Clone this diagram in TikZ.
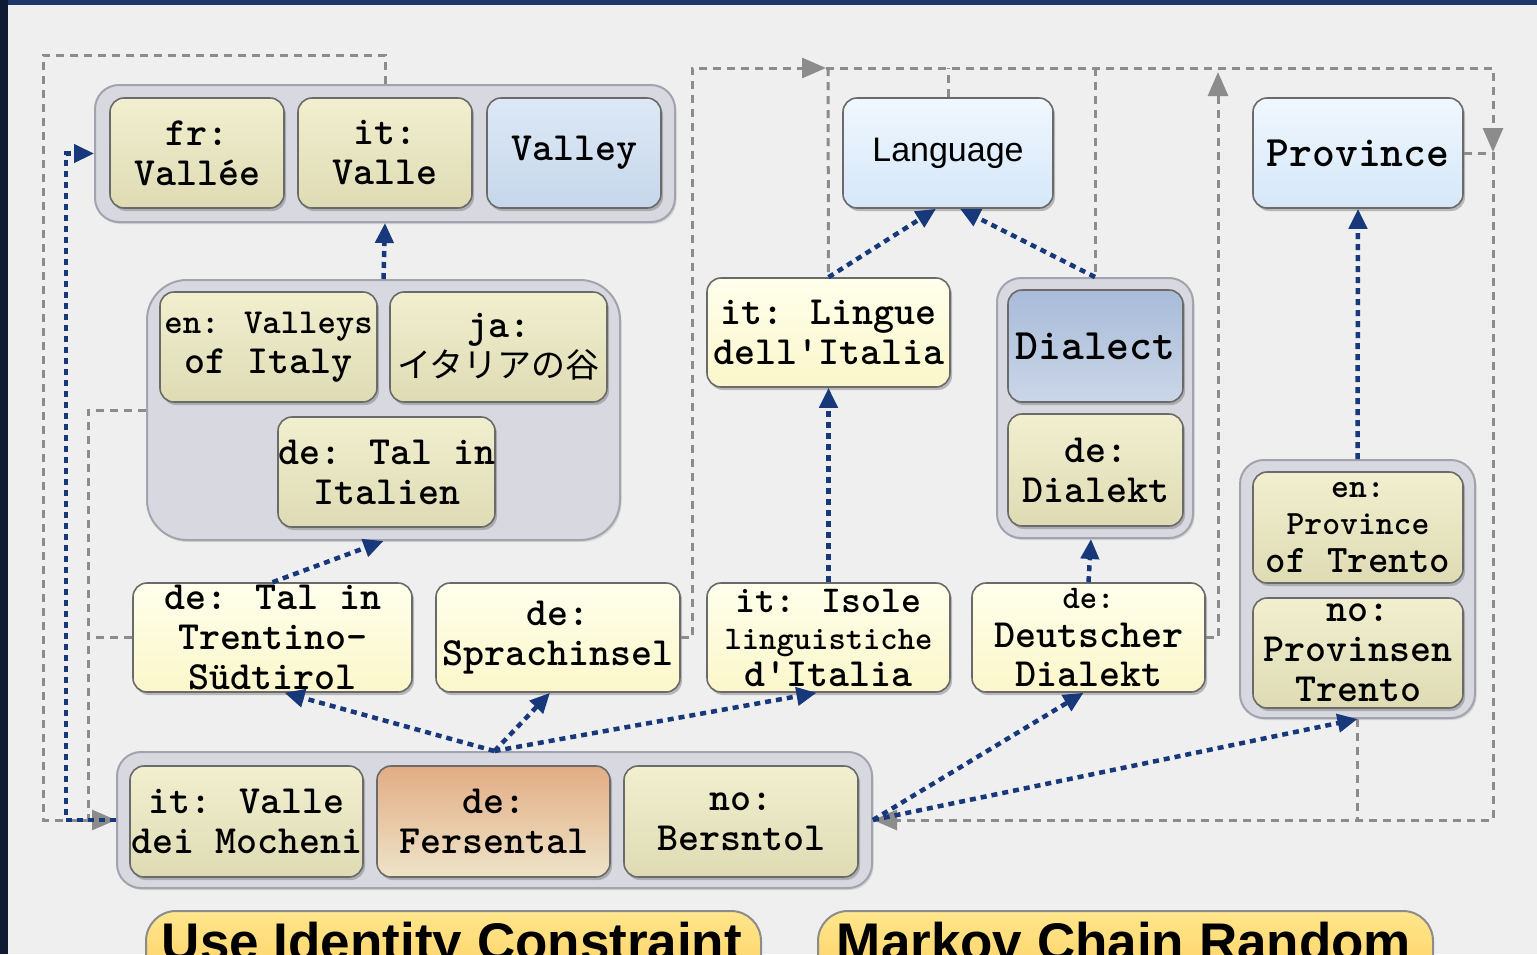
\documentclass[tikz,border=0pt]{standalone}
\usepackage{fontspec}
\newfontfamily\jpfont{Noto Sans CJK JP}
\newfontfamily\arialfont{Liberation Sans}
\usetikzlibrary{arrows.meta,shadows,calc}
\definecolor{bgcol}{HTML}{EFEFEF}
\definecolor{topnavy}{HTML}{1D3868}
\definecolor{leftnavy}{HTML}{0F1B33}
\definecolor{grpfill}{HTML}{D8D9E0}
\definecolor{grpline}{HTML}{A2A3AD}
\definecolor{boxline}{HTML}{6A6A6A}
\definecolor{olT}{HTML}{F1EFCF}
\definecolor{olB}{HTML}{DEDBB4}
\definecolor{paT}{HTML}{FFFFEC}
\definecolor{paB}{HTML}{FBF6CA}
\definecolor{vbT}{HTML}{DDE8F5}
\definecolor{vbB}{HTML}{C6D7EB}
\definecolor{lbT}{HTML}{F0F7FE}
\definecolor{lbB}{HTML}{D5E7F8}
\definecolor{dbT}{HTML}{A8BBD8}
\definecolor{dbB}{HTML}{CBD6E8}
\definecolor{orT}{HTML}{E2AC84}
\definecolor{orB}{HTML}{EEE4C8}
\definecolor{navy}{HTML}{17387A}
\definecolor{grayln}{HTML}{8C8C8C}
\definecolor{btT}{HTML}{FFE68C}
\definecolor{btB}{HTML}{FFC64E}
\newcommand\fsz[1]{\fontsize{#1}{40}\selectfont}
\newcommand\apos{\textquotesingle}
\tikzset{
  grp/.style={draw=grpline, line width=2pt, fill=grpfill, rounded corners=24pt, inner sep=0pt,
    drop shadow={shadow xshift=1.5pt, shadow yshift=-2pt, opacity=0.25}},
  box/.style={draw=boxline, line width=1.6pt, rounded corners=14pt, inner sep=0pt, align=center,
    font=\ttfamily\bfseries\fsz{40}, drop shadow={shadow xshift=2pt, shadow yshift=-3pt, opacity=0.5}},
  olive/.style={top color=olT, bottom color=olB},
  pale/.style={top color=paT, bottom color=paB},
  vblue/.style={top color=vbT, bottom color=vbB},
  lblue/.style={top color=lbT, bottom color=lbB},
  dblue/.style={top color=dbT, bottom color=dbB},
  orng/.style={top color=orT, bottom color=orB},
  bl/.style={draw=navy, line width=4.5pt, dash pattern=on 6pt off 5pt, -{Triangle[length=20pt,width=18pt]}},
  gl/.style={draw=grayln, line width=3pt, dash pattern=on 8pt off 6pt},
  ga/.style={gl, -{Triangle[length=24pt,width=20pt]}},
  btn/.style={draw=grayln, line width=2pt, rounded corners=30pt, top color=btT, bottom color=btB},
  btntext/.style={font=\arialfont\bfseries\fontsize{53}{60}\selectfont, inner sep=0pt}
}
\begin{document}
\begin{tikzpicture}[x=1pt,y=-1pt]
\clip (0,0) rectangle (1537,954);
\fill[bgcol] (0,0) rectangle (1537,954);
\fill[topnavy] (0,0) rectangle (1537,5);
\fill[leftnavy] (0,0) rectangle (8,954);

% groups
\node[grp, minimum width=580pt, minimum height=137pt] (vgrp) at (385,153.5) {};
\node[grp, rounded corners=40pt, minimum width=473pt, minimum height=260pt] (mgrp) at (383.5,410) {};
\node[grp, minimum width=196pt, minimum height=260pt] (dgrp) at (1095,408) {};
\node[grp, minimum width=235pt, minimum height=258pt] (pgrp) at (1357.5,589) {};
\node[grp, minimum width=755pt, minimum height=136pt] (bgrp) at (494.5,820) {};

% top group
\node[box, olive, minimum width=174pt, minimum height=110pt] (fr) at (197,153) {fr:\\Vallée};
\node[box, olive, minimum width=174pt, minimum height=110pt] (itv) at (385,153) {it:\\Valle};
\node[box, vblue, minimum width=174pt, minimum height=110pt] (valley) at (574,153) {Valley};

% middle group
\node[box, olive, minimum width=217pt, minimum height=110pt] (env) at (268.5,347) {{\fsz{35}en: Valleys}\\of Italy};
\node[box, olive, minimum width=217pt, minimum height=110pt] (ja) at (498.5,347) {ja:\\{\jpfont\mdseries\fsz{34}イタリアの谷}};
\node[box, olive, minimum width=217pt, minimum height=110pt] (talit) at (386.5,472) {de: Tal in\\Italien};

% row of standalone nodes
\node[box, pale, minimum width=279pt, minimum height=109pt] (tal) at (272.5,637.5) {de: Tal in\\Trentino-\\Südtirol};
\node[box, pale, minimum width=244pt, minimum height=109pt] (sprach) at (558,637.5) {de:\\Sprachinsel};
\node[box, pale, minimum width=243pt, minimum height=109pt, font=\ttfamily\bfseries\fontsize{38}{37}\selectfont] (isole) at (828.5,637.5) {it: Isole\\{\fontsize{33}{37}\selectfont linguistiche}\\{\fontsize{40}{37}\selectfont d\apos Italia}};
\node[box, pale, minimum width=233pt, minimum height=109pt, font=\ttfamily\bfseries\fontsize{40}{39}\selectfont] (deut) at (1088.5,637.5) {{\fontsize{33}{39}\selectfont de:}\\Deutscher\\Dialekt};
\node[box, pale, minimum width=243pt, minimum height=109pt] (lingue) at (828.5,332.5) {it: Lingue\\dell\apos Italia};

% dialect group
\node[box, dblue, minimum width=175pt, minimum height=112pt, font=\ttfamily\bfseries\fsz{43.5}] (dialect) at (1095.5,346) {Dialect};
\node[box, olive, minimum width=175pt, minimum height=112pt] (dialekt) at (1095.5,470) {de:\\Dialekt};

% top blue
\node[box, lblue, minimum width=210pt, minimum height=110pt, font=\arialfont\fsz{34}] (language) at (948,153) {Language};
\node[box, lblue, minimum width=210pt, minimum height=110pt, font=\ttfamily\bfseries\fsz{43.5}] (province) at (1358,153) {Province};

% province group
\node[box, olive, minimum width=210pt, minimum height=111pt, font=\ttfamily\bfseries\fontsize{34}{37.5}\selectfont] (enprov) at (1358,527.5) {en:\\Province\\{\fontsize{39}{37.5}\selectfont of Trento}};
\node[box, olive, minimum width=210pt, minimum height=110pt] (noprov) at (1358,653) {no:\\Provinsen\\Trento};

% bottom group
\node[box, olive, minimum width=233pt, minimum height=111pt] (mocheni) at (246.5,821.5) {it: Valle\\dei Mocheni};
\node[box, orng, minimum width=233pt, minimum height=111pt] (fersental) at (493.5,821.5) {de:\\Fersental};
\node[box, olive, minimum width=234pt, minimum height=111pt] (bersntol) at (741,821.5) {no:\\Bersntol};

% gray dashed connectors
\draw[ga] (vgrp.north) -- (385,55) -- (43,55) -- (43,820) -- (bgrp.west);
\draw[gl] (mgrp.west) -- (88,410) -- (88,820);
\draw[gl] (tal.west) -- (88,637.5);
\draw[ga] (sprach.east) -| (692,68) -- (826,68);
\draw[ga] (826,68) -- (1493,68) -- (1493,152);
\draw[ga] (province.east) -- (1493,153) -- (1493,820) -- (bgrp.east);
\draw[gl] (828,68) -- (lingue.north);
\draw[gl] (language.north) -- (948,68);
\draw[gl] (1095,68) -- (dgrp.north);
\draw[ga] (deut.east) -| (1218,72);
\draw[gl] (pgrp.south) -- (1357.5,820);

% blue dotted connectors
\draw[bl] (mgrp.north) -- (vgrp.south);
\draw[bl] (tal.north) -- (mgrp.south);
\draw[bl] (bgrp.north) -- ($(tal.south)+(12,0)$);
\draw[bl] (bgrp.north) -- ($(sprach.south)+(-8,0)$);
\draw[bl] (bgrp.north) -- ($(isole.south)+(-12,0)$);
\draw[bl] (isole.north) -- (lingue.south);
\draw[bl] (lingue.north) -- ($(language.south)+(-12,0)$);
\draw[bl] (dgrp.north) -- ($(language.south)+(12,0)$);
\draw[bl] (deut.north) -- ($(dgrp.south)+(-4,0)$);
\draw[bl] (bgrp.east) -- ($(deut.south)+(-5,0)$);
\draw[bl] (bgrp.east) -- (pgrp.south);
\draw[bl] (pgrp.north) -- (province.south);
\draw[bl] (bgrp.west) -- (66,820) -- (66,153.5) -- (vgrp.west);

% buttons
\node[btn, anchor=north west, minimum width=615pt, minimum height=110pt] (b1) at (145,910) {};
\node[btntext, anchor=base] (b1t) at (452,960) {Use Identity Constraint};
\node[btn, anchor=north west, minimum width=615pt, minimum height=110pt] (b2) at (817,910) {};
\node[btntext, anchor=base] (b2t) at (1124,960) {Markov Chain Random};
\end{tikzpicture}
\end{document}
